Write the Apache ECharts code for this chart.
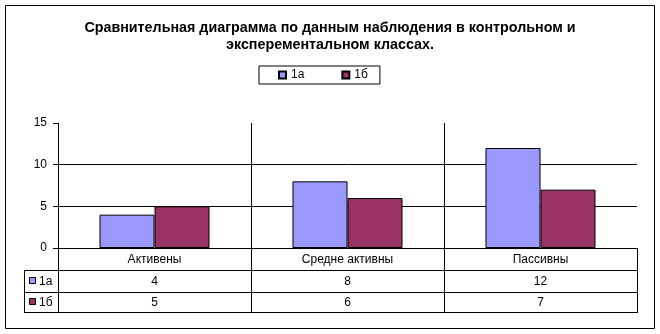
<!DOCTYPE html>
<html><head><meta charset="utf-8">
<script src="https://cdn.jsdelivr.net/npm/echarts@6/dist/echarts.min.js"></script>
<style>html,body{margin:0;padding:0;background:#fff}#c{width:660px;height:334px}</style>
</head><body><div id="c"></div>
<script>
var titleText = 'Сравнительная диаграмма по данным наблюдения в контрольном и\nэксперементальном классах.';
var categories = ['Активены', 'Средне активны', 'Пассивны'];
var seriesNames = ['1а', '1б'];
var values1a = [4, 8, 12];
var values1b = [5, 6, 7];
var seriesColors = ['#9999FF', '#993366'];
var yTicks = [0, 5, 10, 15];

var FONT = 'Liberation Sans, Arial, sans-serif';
var G = {left: 58, right: 23, top: 123, bottom: 86};
var W = 660, H = 334;
var chart = echarts.init(document.getElementById('c'), null, {renderer: 'canvas'});

var option = {
  animation: false,
  backgroundColor: '#fff',
  title: {
    text: titleText, left: 'center', top: 15,
    textStyle: {fontFamily: FONT, fontSize: 14.3, fontWeight: 'bold', color: '#000', lineHeight: 16.5}
  },
  legend: {
    left: 259, top: 66, orient: 'horizontal',
    borderColor: '#000', borderWidth: 1, padding: [3, 12, 3, 19],
    itemWidth: 7, itemHeight: 7, itemGap: 37, icon: 'rect',
    textStyle: {fontFamily: FONT, fontSize: 12, color: '#000'},
    data: seriesNames
  },
  grid: {left: G.left, right: G.right, top: G.top, bottom: G.bottom, containLabel: false},
  xAxis: {
    type: 'category', data: categories,
    axisLine: {lineStyle: {color: '#000', width: 1}},
    axisTick: {show: false},
    axisLabel: {color: '#000', fontFamily: FONT, fontSize: 12, margin: 6},
    splitLine: {show: true, interval: 0, lineStyle: {color: ['#000', '#000', '#000', 'rgba(0,0,0,0)'], width: 1}}
  },
  yAxis: {
    type: 'value', min: yTicks[0], max: yTicks[yTicks.length - 1], interval: 5,
    axisLine: {show: true, lineStyle: {color: '#000', width: 1}},
    axisTick: {show: true, length: 5, lineStyle: {color: '#000'}},
    axisLabel: {color: '#000', fontFamily: FONT, fontSize: 12, margin: 11},
    splitLine: {show: true, lineStyle: {color: ['#000', '#000', '#000', 'rgba(0,0,0,0)'], width: 1}}
  },
  series: [
    {name: seriesNames[0], type: 'bar', data: values1a, barGap: '0%', barCategoryGap: '43%',
      itemStyle: {color: seriesColors[0], borderColor: '#000', borderWidth: 1}},
    {name: seriesNames[1], type: 'bar', data: values1b, barGap: '0%', barCategoryGap: '43%',
      itemStyle: {color: seriesColors[1], borderColor: '#000', borderWidth: 1}}
  ]
};
chart.setOption(option);

// Data table drawn below the axis, positions derived from the category axis scale
function buildTable() {
  var c0 = chart.convertToPixel({xAxisIndex: 0}, 0);
  var c1 = chart.convertToPixel({xAxisIndex: 0}, 1);
  var band = c1 - c0;
  var x0 = G.left, x1 = W - G.right;
  var yAxis0 = H - G.bottom;            // y of value 0
  var rowTops = [yAxis0 + 22, yAxis0 + 44, yAxis0 + 64];
  var keyLeft = 24;
  var els = [];
  function line(xa, ya, xb, yb) {
    els.push({type: 'line', shape: {x1: xa, y1: ya, x2: xb, y2: yb}, style: {stroke: '#000', lineWidth: 1}, silent: true});
  }
  var cr = function (v) { return Math.round(v) + 0.5; };
  line(cr(x0), yAxis0, cr(x0), rowTops[2]);
  for (var i = 0; i < categories.length; i++) {
    var bx = cr(chart.convertToPixel({xAxisIndex: 0}, i) + band / 2);
    line(bx, yAxis0, bx, rowTops[2]);
  }
  line(cr(keyLeft), rowTops[0], cr(keyLeft), rowTops[2]);
  for (var r = 0; r < 3; r++) line(keyLeft, cr(rowTops[r]), x1 + 1, cr(rowTops[r]));
  var rows = [values1a, values1b];
  for (var s = 0; s < rows.length; s++) {
    var cy = (rowTops[s] + rowTops[s + 1]) / 2;
    els.push({type: 'rect', shape: {x: keyLeft + 5.5, y: Math.round(cy) - 3.5, width: 6, height: 6},
      style: {fill: seriesColors[s], stroke: '#000', lineWidth: 1}, silent: true});
    els.push({type: 'text', style: {x: keyLeft + 15, y: cy + 1, text: seriesNames[s], fill: '#000',
      font: '12px ' + FONT, textAlign: 'left', textVerticalAlign: 'middle'}, silent: true});
    for (var k = 0; k < categories.length; k++) {
      var cx = chart.convertToPixel({xAxisIndex: 0}, k);
      els.push({type: 'text', style: {x: cx, y: cy + 1, text: String(rows[s][k]), fill: '#000',
        font: '12px ' + FONT, textAlign: 'center', textVerticalAlign: 'middle'}, silent: true});
    }
  }
  els.push({type: 'rect', shape: {x: 5.5, y: 5.5, width: 649, height: 323},
    style: {fill: 'none', stroke: '#000', lineWidth: 1}, silent: true});
  chart.setOption({graphic: {elements: els}});
}
buildTable();
</script></body></html>
